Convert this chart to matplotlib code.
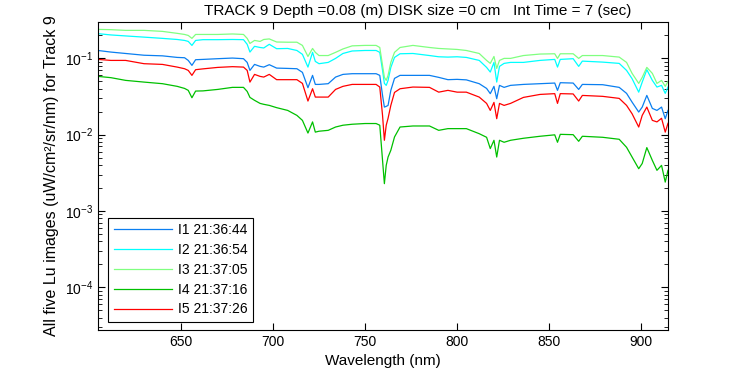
import numpy as np
import matplotlib
matplotlib.use('Agg')
import matplotlib.pyplot as plt

plt.rcParams['font.family'] = ['Liberation Sans', 'DejaVu Sans']
plt.rcParams['mathtext.fontset'] = 'custom'
plt.rcParams['mathtext.rm'] = 'Liberation Sans'
plt.rcParams['mathtext.it'] = 'Liberation Sans'

# wavelength grid (nm)
wavelength = [605, 612, 620, 630, 640, 648, 652, 654, 656, 658, 662, 670, 678, 684, 686,
              687.5, 690, 693, 695, 698, 702, 708, 713, 716, 719, 721.5, 723, 725, 730, 734,
              738, 743, 750, 756, 758, 759.5, 760.5, 761.5, 762.5, 764, 766, 769, 776, 785,
              790, 795, 800, 805, 812, 816, 818, 820, 821.5, 823, 825.5, 829, 836, 845, 853,
              854.5, 856, 863, 866, 868, 879, 888, 892, 895, 898.6, 900.5, 903, 906, 908.5,
              911, 913, 914.5]

i1 = [0.127, 0.121, 0.116, 0.110, 0.108, 0.103, 0.102, 0.0941, 0.0810, 0.0961, 0.0970, 0.0991,
      0.101, 0.0991, 0.0886, 0.0696, 0.0834, 0.0786, 0.0769, 0.0827, 0.0746, 0.0739, 0.0732,
      0.0656, 0.0413, 0.0599, 0.0456, 0.0456, 0.0466, 0.0569, 0.0617, 0.0630, 0.0630, 0.0630,
      0.0599, 0.0327, 0.0230, 0.0235, 0.0242, 0.0381, 0.0547, 0.0599, 0.0599, 0.0599, 0.0564,
      0.0526, 0.0531, 0.0523, 0.0466, 0.0404, 0.0345, 0.0430, 0.0296, 0.0443, 0.0417, 0.0443,
      0.0456, 0.0466, 0.0475, 0.0381, 0.0480, 0.0475, 0.0392, 0.0456, 0.0452, 0.0417, 0.0348,
      0.0267, 0.0198, 0.0230, 0.0327, 0.0221, 0.0208, 0.0230, 0.0162, 0.0208]

i2 = [0.211, 0.203, 0.197, 0.190, 0.183, 0.177, 0.172, 0.167, 0.148, 0.172, 0.176, 0.176,
      0.177, 0.176, 0.153, 0.121, 0.144, 0.139, 0.137, 0.153, 0.134, 0.135, 0.127, 0.113,
      0.0769, 0.120, 0.0913, 0.0852, 0.0886, 0.100, 0.116, 0.125, 0.127, 0.127, 0.120,
      0.0696, 0.0470, 0.0443, 0.0515, 0.0762, 0.103, 0.115, 0.116, 0.109, 0.105, 0.104,
      0.105, 0.103, 0.0941, 0.0762, 0.0662, 0.0886, 0.0489, 0.0786, 0.0860, 0.0886, 0.0886,
      0.0941, 0.0970, 0.0769, 0.0970, 0.0991, 0.0786, 0.0921, 0.0894, 0.0860, 0.0696,
      0.0542, 0.0361, 0.0489, 0.0711, 0.0515, 0.0421, 0.0443, 0.0348, 0.0421]

i3 = [0.240, 0.238, 0.233, 0.233, 0.226, 0.213, 0.206, 0.200, 0.183, 0.206, 0.206, 0.206,
      0.209, 0.206, 0.183, 0.157, 0.172, 0.167, 0.177, 0.180, 0.164, 0.163, 0.163, 0.148,
      0.106, 0.135, 0.120, 0.109, 0.109, 0.120, 0.133, 0.146, 0.148, 0.148, 0.139,
      0.0810, 0.0564, 0.0515, 0.0599, 0.0886, 0.120, 0.139, 0.148, 0.139, 0.135, 0.133,
      0.131, 0.127, 0.116, 0.0941, 0.0860, 0.106, 0.0739, 0.0941, 0.100, 0.100, 0.109,
      0.114, 0.115, 0.100, 0.115, 0.115, 0.100, 0.109, 0.109, 0.104, 0.0886,
      0.0636, 0.0470, 0.0564, 0.0762, 0.0636, 0.0470, 0.0515, 0.0430, 0.0500]

i4 = [0.0581, 0.0559, 0.0515, 0.0489, 0.0466, 0.0430, 0.0404, 0.0381, 0.0305, 0.0373, 0.0375,
      0.0392, 0.0417, 0.0417, 0.0369, 0.0308, 0.0282, 0.0257, 0.0250, 0.0242, 0.0226, 0.0208,
      0.0179, 0.0154, 0.0105, 0.0147, 0.0108, 0.0111, 0.0114, 0.0126, 0.0133, 0.0137, 0.0140,
      0.0140, 0.0133, 0.00460, 0.00228, 0.00396, 0.00509, 0.00624, 0.00933, 0.0126, 0.0130,
      0.0130, 0.0114, 0.0120, 0.0120, 0.0120, 0.0103, 0.00924, 0.00657, 0.00844, 0.00509,
      0.00844, 0.00795, 0.00844, 0.00897, 0.00953, 0.00995, 0.00795, 0.0101, 0.0100, 0.00819,
      0.00953, 0.00924, 0.00870, 0.00683, 0.00509, 0.00358, 0.00419, 0.00677, 0.00460,
      0.00341, 0.00396, 0.00239, 0.00341]

i5 = [0.0970, 0.0941, 0.0941, 0.0852, 0.0834, 0.0769, 0.0732, 0.0696, 0.0599, 0.0711, 0.0729,
      0.0762, 0.0779, 0.0769, 0.0696, 0.0489, 0.0617, 0.0581, 0.0569, 0.0617, 0.0526, 0.0526,
      0.0526, 0.0470, 0.0276, 0.0400, 0.0311, 0.0311, 0.0311, 0.0392, 0.0430, 0.0456, 0.0456,
      0.0456, 0.0421, 0.0179, 0.00844, 0.0133, 0.0164, 0.0242, 0.0358, 0.0400, 0.0421, 0.0417,
      0.0361, 0.0381, 0.0361, 0.0361, 0.0311, 0.0257, 0.0208, 0.0265, 0.0162, 0.0257, 0.0242,
      0.0257, 0.0308, 0.0337, 0.0345, 0.0257, 0.0345, 0.0342, 0.0276, 0.0327, 0.0318, 0.0299,
      0.0242, 0.0188, 0.0126, 0.0179, 0.0230, 0.0154, 0.0147, 0.0164, 0.0108, 0.0141]

labels = ['I1 21:36:44', 'I2 21:36:54', 'I3 21:37:05', 'I4 21:37:16', 'I5 21:37:26']
colors = ['#0a7ff0', '#00ffff', '#80ff80', '#00c000', '#ff0000']

fig = plt.figure(figsize=(7.5, 3.75), dpi=100)
ax = fig.add_axes([98 / 750, 45 / 375, 570 / 750, 308 / 375])

for y, c, lab in zip([i1, i2, i3, i4, i5], colors, labels):
    ax.plot(wavelength, y, color=c, lw=0.9, label=lab)

ax.set_yscale('log')
ax.set_xlim(605, 914.5)
ax.set_ylim(2.75e-5, 0.3)
ax.set_xticks([650, 700, 750, 800, 850, 900])
ax.set_yticks([1e-4, 1e-3, 1e-2, 1e-1])
ax.tick_params(which='both', direction='in', top=True, right=True, labelsize=10)
ax.tick_params(which='major', length=5)
ax.tick_params(which='minor', length=3)
for s in ax.spines.values():
    s.set_linewidth(0.8)

ax.set_xlabel('Wavelength (nm)', fontsize=11)
ax.set_ylabel('All five Lu images (uW/cm²/sr/nm) for Track 9', fontsize=11.5)
fig.text(418 / 750, 1 - 11 / 375, 'TRACK 9 Depth =0.08 (m) DISK size =0 cm   Int Time = 7 (sec)',
         ha='center', va='center', fontsize=11)

leg = ax.legend(loc='lower left', fontsize=10, fancybox=False, edgecolor='black',
                framealpha=1, handlelength=4.2, handletextpad=0.45, borderpad=0.4,
                labelspacing=0.42, borderaxespad=0, bbox_to_anchor=(10 / 570, 8 / 308))
leg.get_frame().set_linewidth(0.8)

fig.savefig('out.png', dpi=100)
